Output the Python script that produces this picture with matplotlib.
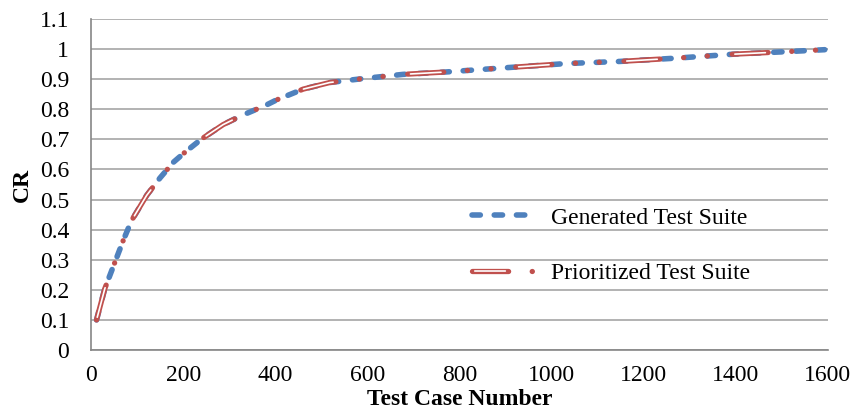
import matplotlib
matplotlib.use("Agg")
import matplotlib.pyplot as plt
from matplotlib.legend_handler import HandlerTuple

# values
test_cases = [11, 29, 47, 69, 87, 120, 149, 178, 203, 239, 286, 326, 377, 402,
              460, 518, 590, 677, 771, 890, 1032, 1148, 1271, 1394, 1517, 1593]
cr_generated = [0.10, 0.204, 0.276, 0.364, 0.430, 0.514, 0.572, 0.624, 0.657,
                0.701, 0.749, 0.779, 0.812, 0.831, 0.867, 0.889, 0.902, 0.916,
                0.924, 0.937, 0.952, 0.959, 0.970, 0.983, 0.992, 0.998]
cr_prioritized = [0.10, 0.204, 0.276, 0.364, 0.430, 0.514, 0.572, 0.624, 0.657,
                  0.701, 0.749, 0.779, 0.812, 0.831, 0.867, 0.889, 0.902, 0.916,
                  0.924, 0.937, 0.952, 0.959, 0.970, 0.983, 0.992, 0.998]
x_ticks = [0, 200, 400, 600, 800, 1000, 1200, 1400, 1600]
y_ticks = [0, 0.1, 0.2, 0.3, 0.4, 0.5, 0.6, 0.7, 0.8, 0.9, 1.0, 1.1]
y_labels = ["0", "0.1", "0.2", "0.3", "0.4", "0.5", "0.6", "0.7", "0.8", "0.9", "1", "1.1"]

plt.rcParams['font.family'] = ['Liberation Serif', 'DejaVu Serif']
plt.rcParams['lines.scale_dashes'] = False

blue = "#4F81BD"
red = "#C0504D"

fig = plt.figure(figsize=(8.58, 4.13), dpi=100)
ax = fig.add_axes([0.1066, 0.1525, 0.8584, 0.8015])

# generated suite: thick blue dashes
gen_pat = (0, (6, 10))
gen, = ax.plot(test_cases, cr_generated, color=blue, lw=4,
               dash_capstyle='round', zorder=3)
gen.set_linestyle(gen_pat)

# prioritized suite: red double line, long dash dot dot
red_pat = (0, (26, 17, 0.1, 17, 0.1, 17.8))
white_pat = (76, (22, 56))
pri_out, = ax.plot(test_cases, cr_prioritized, color=red, lw=3.8,
                   dash_capstyle='round', zorder=4)
pri_out.set_linestyle(red_pat)
pri_in, = ax.plot(test_cases, cr_prioritized, color="white", lw=1.2,
                  dash_capstyle='round', zorder=5)
pri_in.set_linestyle(white_pat)

ax.set_xlim(0, 1600)
ax.set_ylim(0, 1.1)
ax.set_xticks(x_ticks)
ax.set_yticks(y_ticks)
ax.set_yticklabels(y_labels)
ax.tick_params(axis='both', length=0, labelsize=17, colors="black")
ax.tick_params(axis='y', pad=16)
ax.tick_params(axis='x', pad=11)

ax.yaxis.grid(True, color="#A6A6A6", lw=1.2)
ax.set_axisbelow(True)
for s in ["top", "right"]:
    ax.spines[s].set_visible(False)
for s in ["left", "bottom"]:
    ax.spines[s].set_color("#868686")
    ax.spines[s].set_linewidth(1.2)

ax.set_xlabel("Test Case Number", fontsize=17, fontweight="bold", labelpad=2)
ax.set_ylabel("CR", fontsize=17, fontweight="bold", labelpad=5)

# legend proxies so the dash patterns start cleanly
h_gen, = ax.plot([], [], color=blue, lw=4, dash_capstyle='round', linestyle=gen_pat)
h_out, = ax.plot([], [], color=red, lw=3.8, dash_capstyle='round', linestyle=red_pat)
h_in, = ax.plot([], [], color="white", lw=1.2, dash_capstyle='round', linestyle=white_pat)

ax.legend([h_gen, (h_out, h_in)], ["Generated Test Suite", "Prioritized Test Suite"],
          handler_map={tuple: HandlerTuple(ndivide=1, pad=0)},
          loc="upper left", bbox_to_anchor=(0.517, 0.432), frameon=False,
          borderpad=0, borderaxespad=0,
          fontsize=17, handlelength=2.7, handletextpad=0.65, labelspacing=1.43)

plt.savefig("out.png", dpi=100)
